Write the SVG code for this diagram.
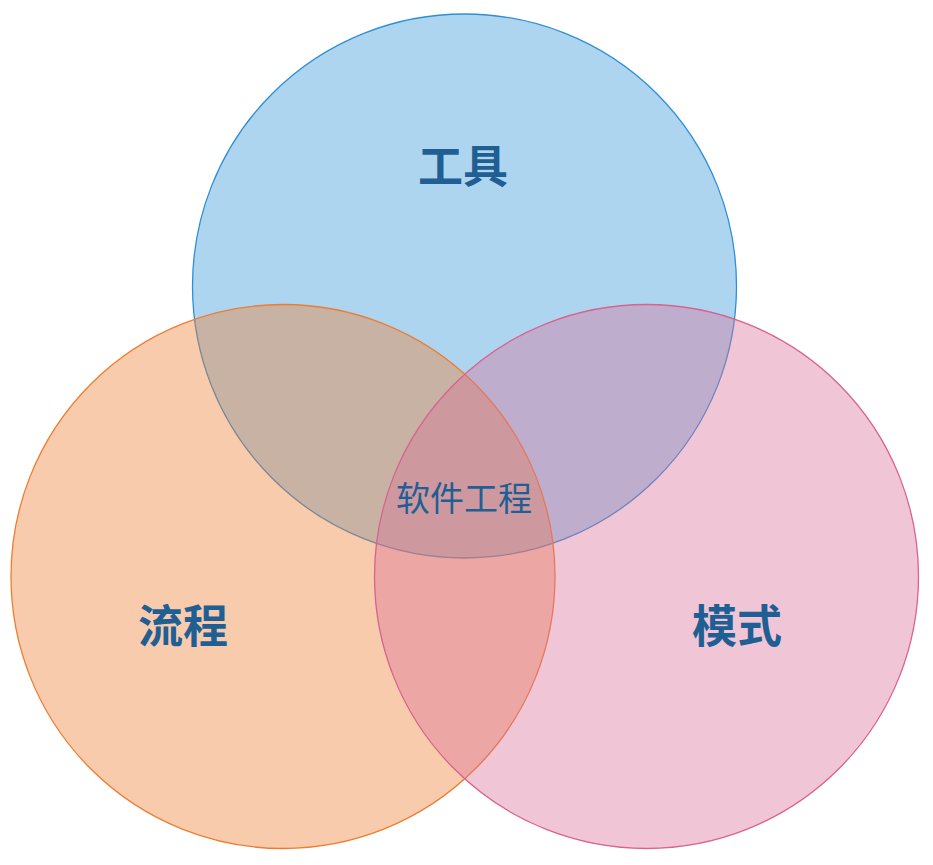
<svg xmlns="http://www.w3.org/2000/svg" width="933" height="865" viewBox="0 0 933 865">
<style>
.c{fill-opacity:0.4;stroke-width:1.3}
.t{font-family:"Noto Sans CJK SC","Noto Sans CJK JP",sans-serif;fill:#1F5F93;text-anchor:middle}
.big{font-size:45px;font-weight:bold}
.mid{font-size:34px}
</style>
<rect width="933" height="865" fill="#FFFFFF"/>
<g id="tools">
<circle class="c" cx="464.5" cy="286" r="272" fill="#3496D9" stroke="#2E8FD6"/>
</g>
<g id="process">
<circle class="c" cx="283" cy="576.5" r="272" fill="#ED7D31" stroke="#ED7D31"/>
</g>
<g id="pattern">
<circle class="c" cx="646.5" cy="576.5" r="272" fill="#D97098" stroke="#D9628F"/>
</g>
<g id="connectors"></g>
<g id="labels">
<text class="t big" x="463" y="183">工具</text>
<text class="t big" x="183" y="643">流程</text>
<text class="t big" x="737" y="643">模式</text>
<text class="t mid" x="464" y="511">软件工程</text>
</g>
</svg>
